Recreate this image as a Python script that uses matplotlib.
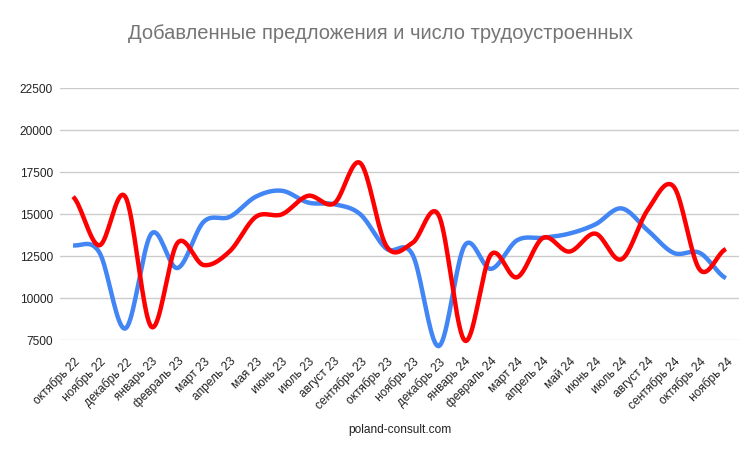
import numpy as np
import matplotlib
matplotlib.use("Agg")
import matplotlib.pyplot as plt

months = ["октябрь 22", "ноябрь 22", "декабрь 22", "январь 23", "февраль 23",
          "март 23", "апрель 23", "мая 23", "июнь 23", "июль 23", "август 23",
          "сентябрь 23", "октябрь 23", "ноябрь 23", "декабрь 23", "январь 24",
          "февраль 24", "март 24", "апрель 24", "май 24", "июнь 24", "июль 24",
          "август 24", "сентябрь 24", "октябрь 24", "ноябрь 24"]

offers = [13150, 12750, 8200, 13850, 11800, 14550, 14850, 16050, 16400, 15700,
          15600, 15000, 12950, 12600, 7150, 13150, 11750, 13450, 13600, 13850,
          14400, 15350, 14050, 12700, 12700, 11200]

employed = [16050, 13150, 16050, 8300, 13300, 11980, 12800, 14850, 15000, 16100,
            15650, 18050, 13100, 13300, 14950, 7480, 12600, 11250, 13600, 12780,
            13850, 12320, 15250, 16650, 11700, 12930]

yticks = [7500, 10000, 12500, 15000, 17500, 20000, 22500]
title = "Добавленные предложения и число трудоустроенных"
footer = "poland-consult.com"


def smooth(y, n=20):
    y = np.asarray(y, dtype=float)
    x = np.arange(len(y), dtype=float)
    p = np.concatenate([[y[0]], y, [y[-1]]])
    xs, ys = [], []
    for i in range(len(y) - 1):
        p0, p1, p2, p3 = p[i], p[i + 1], p[i + 2], p[i + 3]
        t = np.linspace(0, 1, n, endpoint=(i == len(y) - 2))
        m1 = (p2 - p0) / 2
        m2 = (p3 - p1) / 2
        h00 = 2 * t**3 - 3 * t**2 + 1
        h10 = t**3 - 2 * t**2 + t
        h01 = -2 * t**3 + 3 * t**2
        h11 = t**3 - t**2
        ys.append(h00 * p1 + h10 * m1 + h01 * p2 + h11 * m2)
        xs.append(x[i] + t)
    return np.concatenate(xs), np.concatenate(ys)


plt.rcParams['font.family'] = ['Liberation Sans', 'DejaVu Sans']

fig = plt.figure(figsize=(7.5, 4.53), dpi=100)
ax = fig.add_axes([0.08, 0.2488, 0.9053, 0.5563])

x = np.arange(len(months))
sx, sy = smooth(offers)
ax.plot(sx, sy, color="#4285F4", lw=3.2, solid_capstyle="butt", clip_on=False, zorder=3)
sx, sy = smooth(employed)
ax.plot(sx, sy, color="#FF0000", lw=3.2, solid_capstyle="butt", clip_on=False, zorder=4)

ax.set_xlim(-0.5, len(months) - 0.5)
ax.set_ylim(7500, 22500)
ax.set_yticks(yticks)
ax.set_yticklabels([str(v) for v in yticks], fontsize=8.6, color="#222222")
ax.set_xticks(x)
ax.set_xticklabels(months, rotation=45, ha="right", rotation_mode="anchor",
                   fontsize=8.6, color="#222222")
ax.tick_params(axis="both", length=0)
ax.tick_params(axis="y", pad=5)
ax.tick_params(axis="x", pad=11)
ax.grid(axis="y", color="#cccccc", lw=1)
ax.set_axisbelow(True)
for s in ax.spines.values():
    s.set_visible(False)

fig.text(0.507, 0.927, title, ha="center", va="center", fontsize=14.5, color="#757575")
fig.text(0.533, 0.05, footer, ha="center", va="center", fontsize=8.6, color="#222222")

fig.savefig("out.png", dpi=100)
